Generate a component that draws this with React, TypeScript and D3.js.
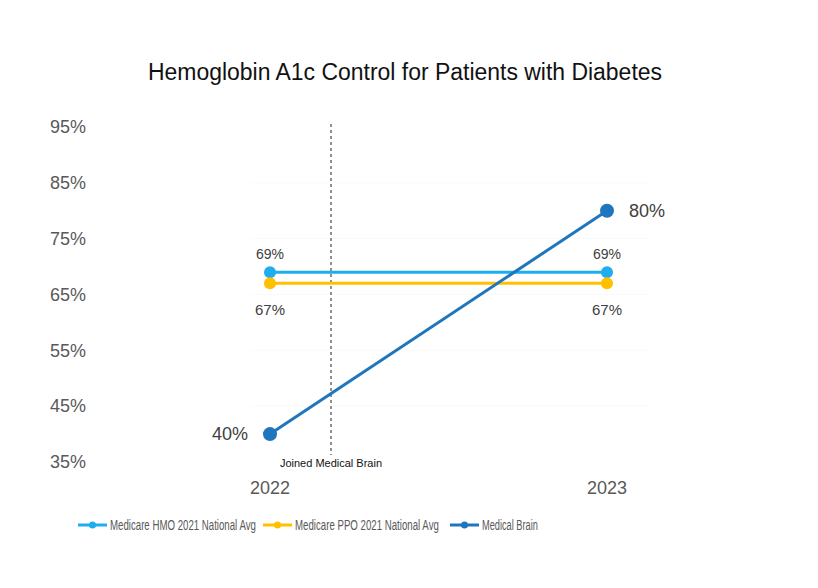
import React, { useRef, useEffect } from "react";
import * as d3 from "d3";

const years = ["2022", "2023"];
const hmoValues = [69, 69];
const ppoValues = [67, 67];
const brainValues = [40, 80];
const yTicks = [35, 45, 55, 65, 75, 85, 95];
const seriesNames = ["Medicare HMO 2021 National Avg", "Medicare PPO 2021 National Avg", "Medical Brain"];
const seriesColors = ["#1eaeee", "#ffc000", "#1f76bd"];

const App: React.FC = () => {
    const svgRef = useRef<SVGSVGElement | null>(null);

    useEffect(() => {
        const width = 818;
        const height = 588;
        const svg = d3.select(svgRef.current!);
        svg.selectAll("*").remove();

        const x = d3.scalePoint<string>().domain(years).range([270, 607]);
        const y = d3.scaleLinear().domain([35, 95]).range([462, 127]);

        svg.append("rect").attr("width", width).attr("height", height).attr("fill", "#fff");

        // title
        svg.append("text")
            .attr("x", 405)
            .attr("y", 80)
            .attr("text-anchor", "middle")
            .style("font", "23px 'Liberation Sans', Arial, sans-serif")
            .attr("fill", "#111")
            .attr("textLength", 514)
            .attr("lengthAdjust", "spacingAndGlyphs")
            .text("Hemoglobin A1c Control for Patients with Diabetes");

        // faint grid
        svg.append("g")
            .selectAll("line")
            .data(yTicks.slice(1, -1))
            .join("line")
            .attr("x1", 250)
            .attr("x2", 650)
            .attr("y1", (d) => y(d))
            .attr("y2", (d) => y(d))
            .attr("stroke", "#fafafa")
            .attr("stroke-width", 1);

        // y axis labels
        svg.append("g")
            .selectAll("text")
            .data(yTicks)
            .join("text")
            .attr("x", 86)
            .attr("y", (d) => y(d))
            .attr("dy", "0.35em")
            .attr("text-anchor", "end")
            .style("font", "18px 'Liberation Sans', Arial, sans-serif")
            .attr("fill", "#595959")
            .text((d) => `${d}%`);

        // x labels
        svg.append("g")
            .selectAll("text")
            .data(years)
            .join("text")
            .attr("x", (d) => x(d)!)
            .attr("y", 494)
            .attr("text-anchor", "middle")
            .style("font", "18px 'Liberation Sans', Arial, sans-serif")
            .attr("fill", "#595959")
            .text((d) => d);

        // joined marker
        svg.append("line")
            .attr("x1", 331)
            .attr("x2", 331)
            .attr("y1", 124)
            .attr("y2", 455)
            .attr("stroke", "#222")
            .attr("stroke-width", 1)
            .attr("stroke-dasharray", "3,3");
        svg.append("text")
            .attr("x", 331)
            .attr("y", 467)
            .attr("text-anchor", "middle")
            .style("font", "11px 'Liberation Sans', Arial, sans-serif")
            .attr("fill", "#111")
            .text("Joined Medical Brain");

        const line = d3
            .line<number>()
            .x((_, i) => x(years[i])!)
            .y((d) => y(d));

        const allSeries = [hmoValues, ppoValues, brainValues];
        const radii = [6, 6, 7];
        allSeries.forEach((vals, s) => {
            svg.append("path")
                .datum(vals)
                .attr("d", line)
                .attr("fill", "none")
                .attr("stroke", seriesColors[s])
                .attr("stroke-width", 3);
            svg.append("g")
                .selectAll("circle")
                .data(vals)
                .join("circle")
                .attr("cx", (_, i) => x(years[i])!)
                .attr("cy", (d) => y(d))
                .attr("r", radii[s])
                .attr("fill", seriesColors[s]);
        });

        // HMO labels above
        svg.append("g")
            .selectAll("text")
            .data(hmoValues)
            .join("text")
            .attr("x", (_, i) => x(years[i])!)
            .attr("y", (d) => y(d) - 13)
            .attr("text-anchor", "middle")
            .style("font", "14px 'Liberation Sans', Arial, sans-serif")
            .attr("fill", "#404040")
            .text((d) => `${d}%`);
        // PPO labels below
        svg.append("g")
            .selectAll("text")
            .data(ppoValues)
            .join("text")
            .attr("x", (_, i) => x(years[i])!)
            .attr("y", (d) => y(d) + 32)
            .attr("text-anchor", "middle")
            .style("font", "15px 'Liberation Sans', Arial, sans-serif")
            .attr("fill", "#404040")
            .text((d) => `${d}%`);
        // Brain labels
        svg.append("g")
            .selectAll("text")
            .data(brainValues)
            .join("text")
            .attr("x", (_, i) => x(years[i])! + (i === 0 ? -22 : 22))
            .attr("y", (d) => y(d))
            .attr("dy", "0.35em")
            .attr("text-anchor", (_, i) => (i === 0 ? "end" : "start"))
            .style("font", "18px 'Liberation Sans', Arial, sans-serif")
            .attr("fill", "#404040")
            .text((d) => `${d}%`);

        // legend - text is condensed in the original, so squeeze it horizontally
        const legendX = [78, 263, 450];
        const legendTextW = [146, 144, 56];
        const legend = svg.append("g").attr("transform", "translate(0,525)");
        seriesNames.forEach((name, i) => {
            const g = legend.append("g").attr("transform", `translate(${legendX[i]},0)`);
            g.append("line").attr("x1", 0).attr("x2", 29).attr("stroke", seriesColors[i]).attr("stroke-width", 3);
            g.append("circle").attr("cx", 14.5).attr("r", 3.5).attr("fill", seriesColors[i]);
            const t = g.append("text")
                .attr("dy", "0.35em")
                .style("font", "15px 'Liberation Sans', Arial, sans-serif")
                .attr("fill", "#595959")
                .text(name);
            const natural = (t.node() as SVGTextElement).getComputedTextLength() || legendTextW[i];
            t.attr("transform", `translate(32,0) scale(${legendTextW[i] / natural},1)`);
        });
    }, []);

    return <svg ref={svgRef} width={818} height={588} style={{ display: "block", margin: "-8px" }} />;
};

export default App;
